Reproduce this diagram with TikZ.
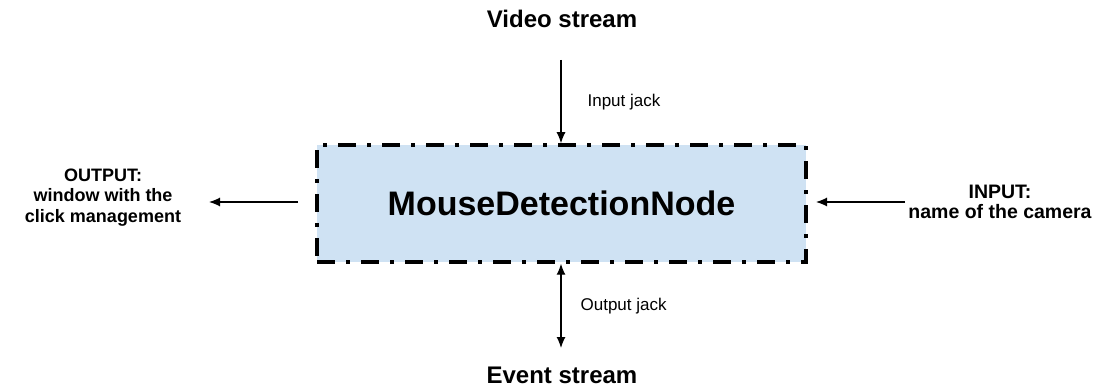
\documentclass[tikz,border=0pt]{standalone}
\usepackage{fontspec}
\setmainfont{Liberation Sans}
\usetikzlibrary{arrows.meta}
\definecolor{boxfill}{HTML}{CFE2F3}
\begin{document}
\begin{tikzpicture}[x=1pt,y=-1pt,
  mainbox/.style={draw=black, fill=boxfill, line width=3.5pt,
    dash pattern=on 18pt off 11pt on 4pt off 11pt, minimum width=489pt, minimum height=117pt,
    inner sep=0pt, font=\bfseries\fontsize{34}{38}\selectfont},
  biglabel/.style={font=\bfseries\fontsize{24}{28}\selectfont, inner sep=0pt},
  sidelabel/.style={font=\bfseries\fontsize{18}{20.5}\selectfont, align=center, inner sep=0pt},
  sidelabelr/.style={font=\bfseries\fontsize{19.5}{20.5}\selectfont, align=center, inner sep=0pt},
  jacklabel/.style={font=\fontsize{17}{20}\selectfont, anchor=west, inner sep=0pt},
  conn/.style={line width=1.2pt, -{Latex[length=11pt,width=9pt]}},
  conn2/.style={line width=1.2pt, {Latex[length=11pt,width=9pt]}-{Latex[length=11pt,width=9pt]}}
]
\useasboundingbox (0,0) rectangle (1101,390);
\node[mainbox] (box) at (561.5,203.5) {MouseDetectionNode};
\node[biglabel] (video) at (562,19) {Video stream};
\node[biglabel] (event) at (562,375) {Event stream};
\node[sidelabel] (out) at (103,197.5) {OUTPUT:\\window with the\\click management};
\node[sidelabelr] (in) at (1000,202) {INPUT:\\name of the camera};
\coordinate (vtop) at (561,60);
\coordinate (ebot) at (561,348);
\coordinate (lstart) at (298,202);
\coordinate (lend) at (209,202);
\coordinate (rstart) at (905,202);
\coordinate (rend) at (816,202);
\draw[conn] (vtop) -- (vtop |- box.north) node[midway, right=26pt, jacklabel] (ij) {Input jack};
\draw[conn2] (box.south -| ebot) -- (ebot) node[midway, right=19pt, jacklabel] (oj) {Output jack};
\draw[conn] (lstart) -- (lend);
\draw[conn] (rstart) -- (rend);
\end{tikzpicture}
\end{document}
